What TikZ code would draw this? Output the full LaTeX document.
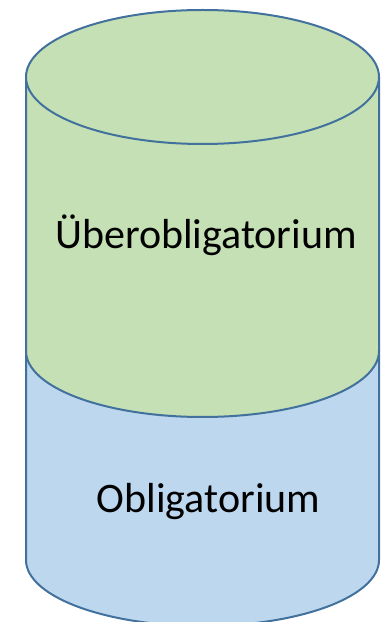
\documentclass[tikz,border=0pt]{standalone}
\usepackage{fontspec}
\setmainfont{Carlito}
\definecolor{edge}{HTML}{41719C}
\definecolor{greenfill}{HTML}{C5E0B4}
\definecolor{bluefill}{HTML}{BDD7EE}
\tikzset{
  cyl/.style={draw=edge, line width=2pt, line join=round},
  lbl/.style={anchor=base, inner sep=0pt, font=\fontsize{42}{50}\selectfont, text=black}
}
\begin{document}
\begin{tikzpicture}[x=1pt,y=1pt]
\useasboundingbox (0,0) rectangle (381,622);
\clip (0,0) rectangle (381,622);
\fill[white] (0,0) rectangle (381,622);
% blue lower part
\path[cyl, fill=bluefill] (26,271) -- (26,62) arc[start angle=180, end angle=360, x radius=176.5, y radius=66] -- (379,271) -- cycle;
% green upper part
\path[cyl, fill=greenfill] (26,545) -- (26,271) arc[start angle=180, end angle=360, x radius=176.5, y radius=66] -- (379,545);
% top ellipse
\path[cyl, fill=greenfill] (202.5,545) ellipse[x radius=176.5, y radius=67];
\node[lbl] (ueber) at (206,373) {Überobligatorium};
\node[lbl] (obl) at (208.5,109) {Obligatorium};
\end{tikzpicture}
\end{document}
